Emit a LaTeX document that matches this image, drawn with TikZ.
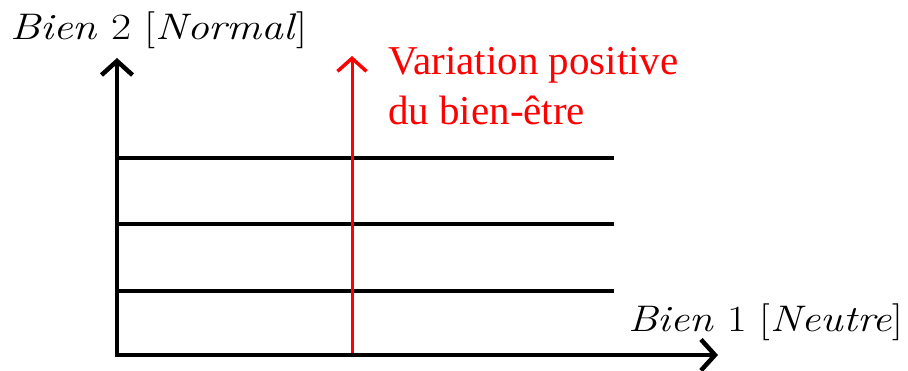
\documentclass[tikz,border=0pt]{standalone}
\usepackage{fontspec}
\newfontfamily\rfont{Liberation Serif}
\usetikzlibrary{arrows.meta}
\tikzset{
  axis/.style={line width=4pt, line join=miter, {Straight Barb[length=14pt,width=31pt,line width=4.5pt]}-{Straight Barb[length=14pt,width=31pt,line width=4.5pt]}},
  level/.style={line width=3.5pt},
  redarrow/.style={red, line width=3pt, -{Straight Barb[length=13pt,width=29pt,line width=3.5pt]}},
  axlabel/.style={font=\fontsize{37}{44}\selectfont, inner sep=0pt, anchor=base west},
  redlabel/.style={red, font=\rfont\fontsize{41}{50}\selectfont, inner sep=0pt, anchor=base west}
}
\begin{document}
\begin{tikzpicture}[x=1pt,y=-1pt]
\useasboundingbox (0,0) rectangle (908,371);
\coordinate (O) at (117,355);
\coordinate (Ytip) at (117,58);
\coordinate (Xtip) at (718,355);
\coordinate (R0) at (352,355);
\coordinate (Rtip) at (352,56);
\coordinate (L1a) at (117,158); \coordinate (L1b) at (614,158);
\coordinate (L2a) at (117,224); \coordinate (L2b) at (614,224);
\coordinate (L3a) at (117,291); \coordinate (L3b) at (614,291);
\draw[level] (L1a) -- (L1b);
\draw[level] (L2a) -- (L2b);
\draw[level] (L3a) -- (L3b);
\draw[redarrow] (R0) -- (Rtip);
\draw[axis] (Ytip) -- (O) -- (Xtip);
\node[axlabel] (ylab) at (10,40) {\scalebox{1.18}[1]{\textit{Bien} 2 [\textit{Normal}]}};
\node[axlabel] (xlab) at (628,332) {\scalebox{1.157}[1]{\textit{Bien} 1 [\textit{Neutre}]}};
\node[redlabel] (var1) at (388,75) {Variation positive};
\node[redlabel] (var2) at (388,125) {du bien-être};
\end{tikzpicture}
\end{document}
